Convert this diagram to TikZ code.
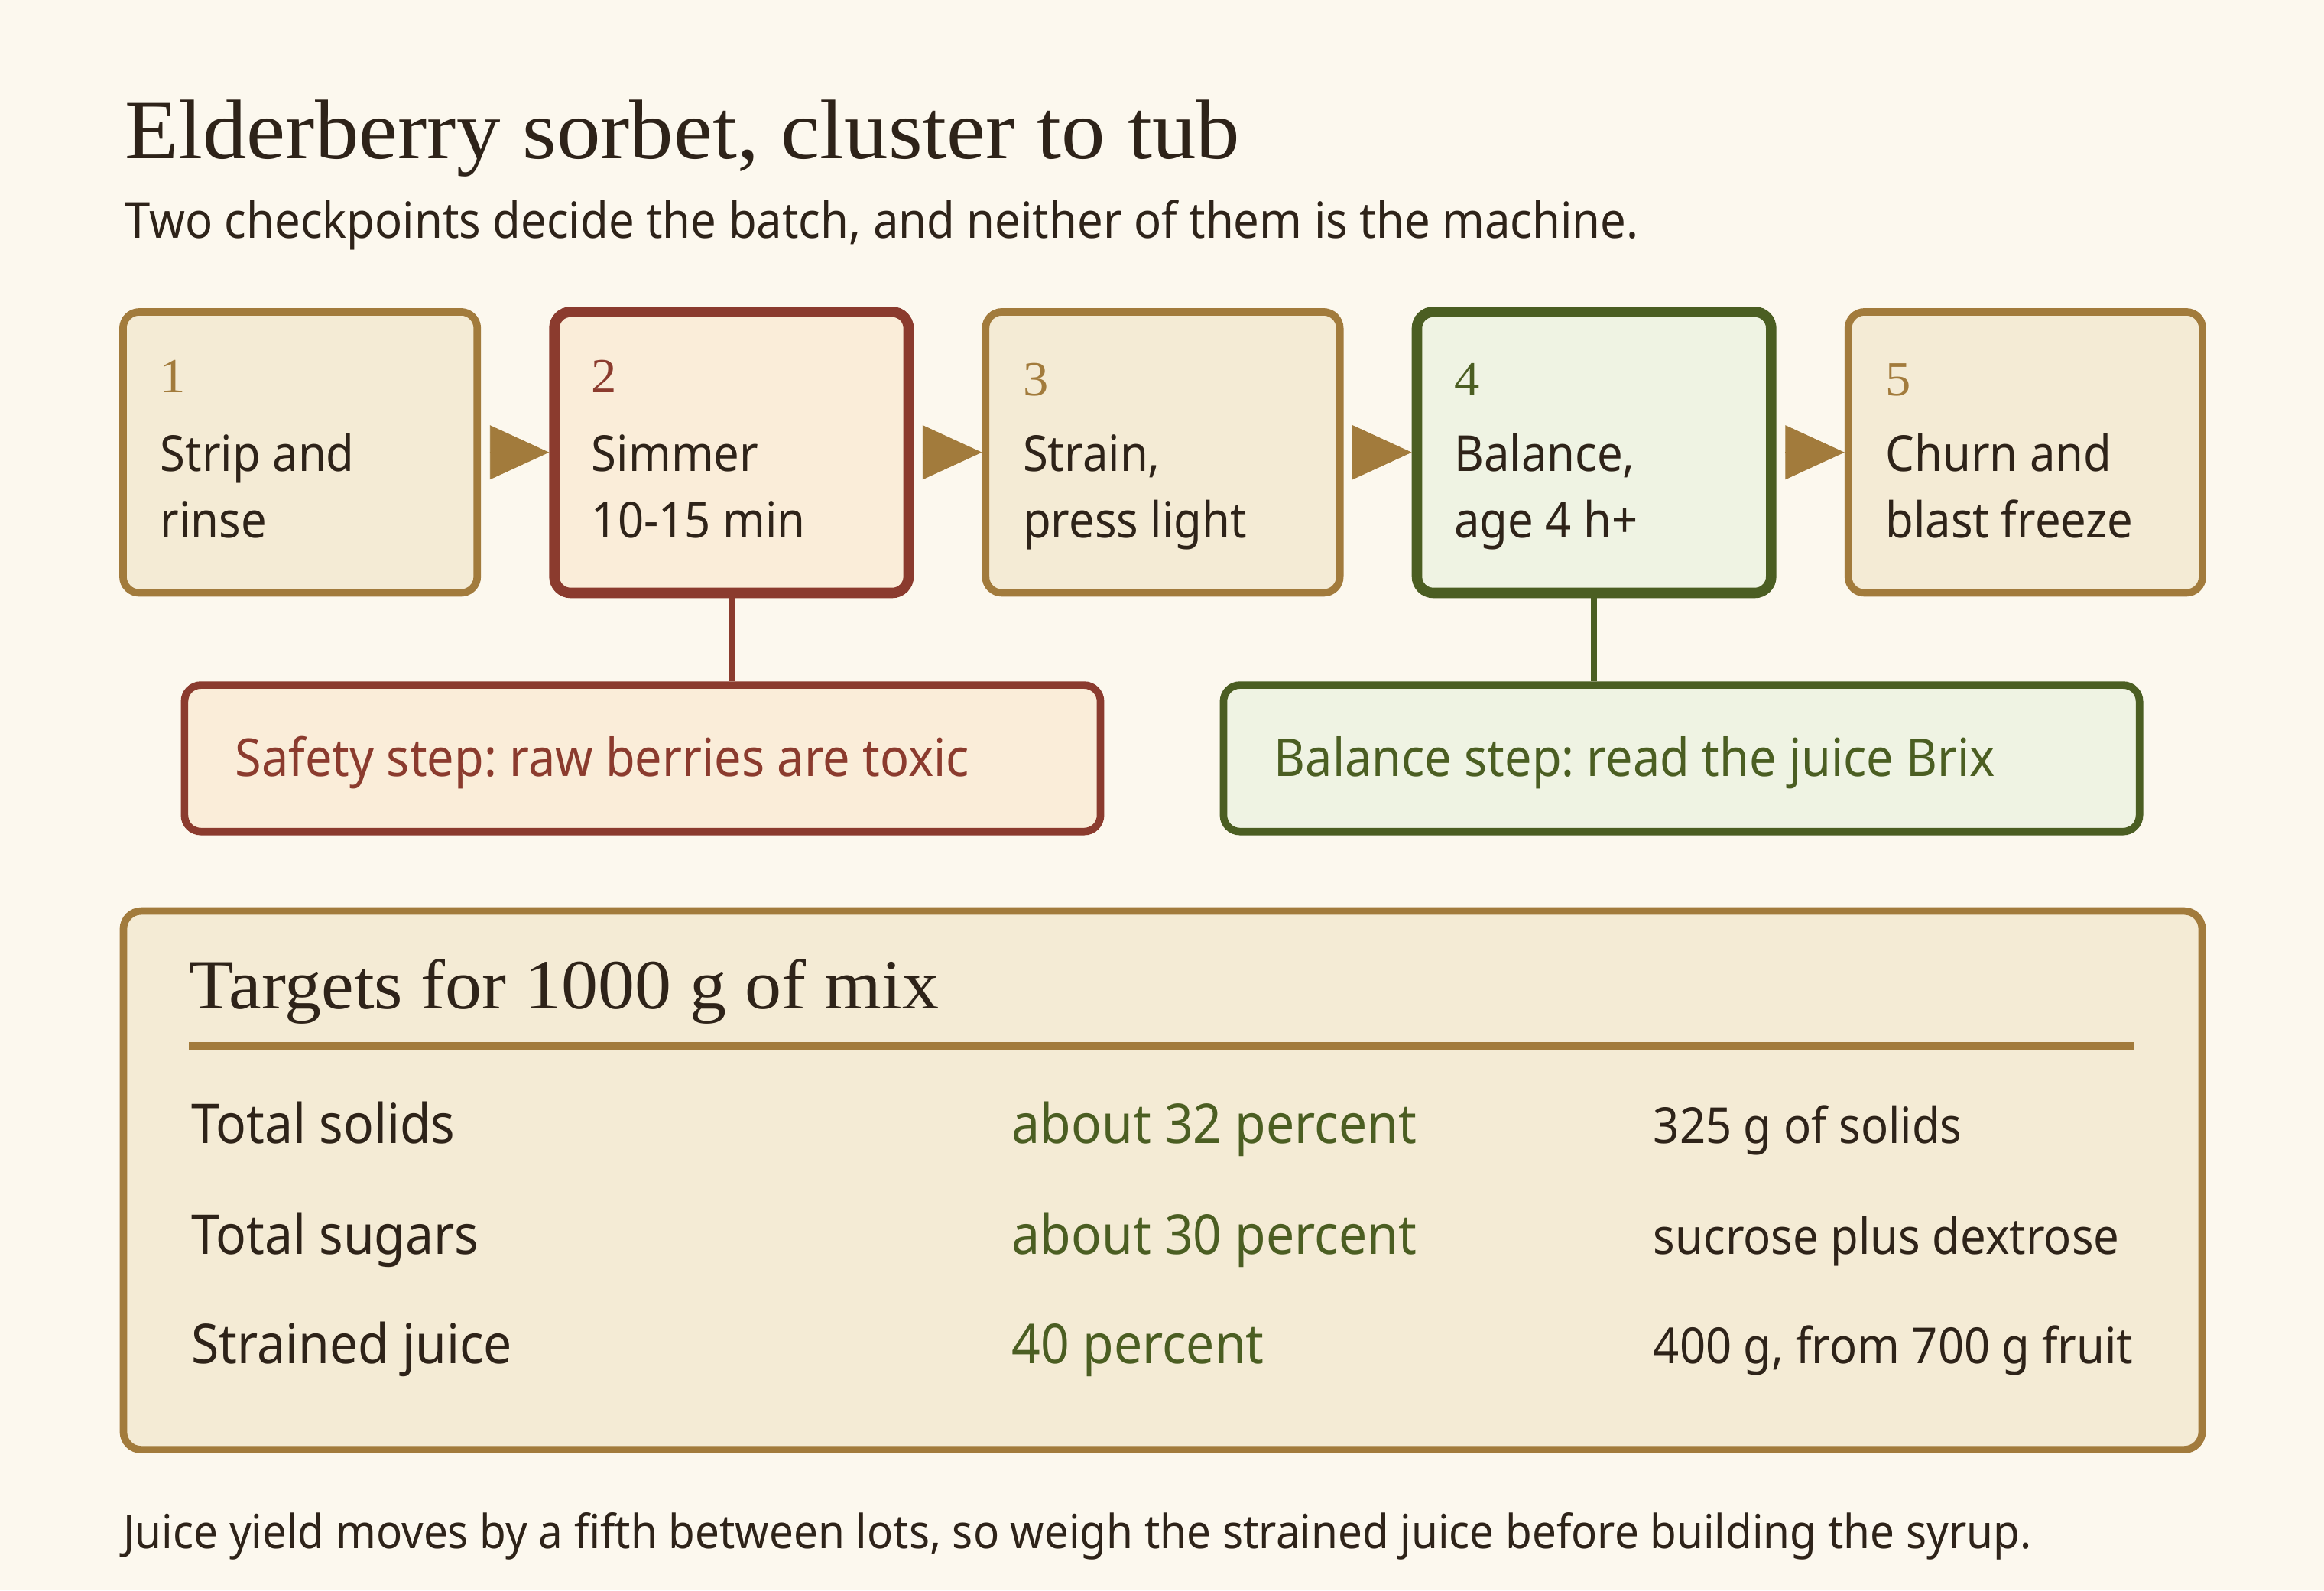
\documentclass[tikz,border=0pt]{standalone}
\usepackage{fontspec}
\setmainfont{Noto Sans}[FakeStretch=0.92]
\newfontfamily\serifx{Liberation Serif}[FakeStretch=1.04]
\usetikzlibrary{arrows.meta}
\definecolor{bgc}{HTML}{FCF8EE}
\definecolor{gold}{HTML}{A27B3C}
\definecolor{goldfill}{HTML}{F4EBD5}
\definecolor{redc}{HTML}{8B3B2E}
\definecolor{redfill}{HTML}{FAEDD9}
\definecolor{greenc}{HTML}{4B5E22}
\definecolor{greenfill}{HTML}{EFF3E3}
\definecolor{ink}{HTML}{2E2319}
\frenchspacing
\begin{document}
\begin{tikzpicture}[x=1pt,y=-1pt,
  stepbox/.style={draw=gold, fill=goldfill, line width=5pt, rounded corners=11pt,
    minimum width=239pt, minimum height=189.6pt, inner sep=0pt},
  redbox/.style={stepbox, draw=redc, fill=redfill, line width=7pt},
  greenbox/.style={stepbox, draw=greenc, fill=greenfill, line width=7pt},
  numtxt/.style={anchor=base west, inner sep=0pt, font=\serifx\fontsize{33}{33}\selectfont},
  steptxt/.style={anchor=base west, inner sep=0pt, text=ink, font=\fontsize{33.5}{40}\selectfont},
  flowarrow/.style={draw=gold, fill=gold, line width=0.5pt, shorten <=6pt,
    -{Triangle[length=40pt,width=36.6pt]}},
  callout/.style={line width=5pt, rounded corners=11pt, minimum width=618pt,
    minimum height=98.8pt, inner sep=0pt},
  callouttxt/.style={anchor=base west, inner sep=0pt, font=\fontsize{35.3}{40}\selectfont},
  rowtxt/.style={anchor=base west, inner sep=0pt, font=\fontsize{37}{40}\selectfont},
  notetxt/.style={anchor=base west, inner sep=0pt, text=ink, font=\fontsize{33.5}{40}\selectfont},
]
\useasboundingbox (0,0) rectangle (1568,1073);
\fill[bgc] (0,0) rectangle (1568,1073);

% title and subtitle
\node[anchor=base west, inner sep=0pt, text=ink, font=\serifx\fontsize{57}{60}\selectfont]
  (title) at (84,107) {Elderberry sorbet, cluster to tub};
\node[anchor=base west, inner sep=0pt, text=ink, font=\fontsize{33.5}{40}\selectfont]
  (subtitle) at (84,160.8) {Two checkpoints decide the batch, and neither of them is the machine.};

% step boxes
\node[stepbox]  (b1) at (202.5,305.2) {};
\node[redbox]   (b2) at (493.5,305.2) {};
\node[stepbox]  (b3) at (784.5,305.2) {};
\node[greenbox] (b4) at (1075.5,305.2) {};
\node[stepbox]  (b5) at (1366.5,305.2) {};

\node[numtxt, text=gold]   (n1) at (108,265) {1};
\node[numtxt, text=redc]   (n2) at (399,265) {2};
\node[numtxt, text=gold]   (n3) at (690,267) {3};
\node[numtxt, text=greenc] (n4) at (981,267) {4};
\node[numtxt, text=gold]   (n5) at (1272,267) {5};

\node[steptxt] (t1a) at (108,318) {Strip and};
\node[steptxt] (t1b) at (108,362.8) {rinse};
\node[steptxt] (t2a) at (399,318) {Simmer};
\node[steptxt] (t2b) at (399,362.8) {10-15 min};
\node[steptxt] (t3a) at (690,318) {Strain,};
\node[steptxt] (t3b) at (690,362.8) {press light};
\node[steptxt] (t4a) at (981,318) {Balance,};
\node[steptxt] (t4b) at (981,362.8) {age 4 h+};
\node[steptxt] (t5a) at (1272,318) {Churn and};
\node[steptxt] (t5b) at (1272,362.8) {blast freeze};

% flow arrows
\draw[flowarrow] (b1.east) -- (b2.west);
\draw[flowarrow] (b2.east) -- (b3.west);
\draw[flowarrow] (b3.east) -- (b4.west);
\draw[flowarrow] (b4.east) -- (b5.west);

% callouts
\node[callout, draw=redc, fill=redfill] (safety) at (433.5,511.6) {};
\node[callout, draw=greenc, fill=greenfill] (balance) at (1134.5,511.6) {};
\draw[redc, line width=4pt] (b2.south) -- (b2.south |- safety.north);
\draw[greenc, line width=4pt] (b4.south) -- (b4.south |- balance.north);
\node[callouttxt, text=redc] (safetytxt) at (158.5,523.9) {Safety step: raw berries are toxic};
\node[callouttxt, text=greenc] (balancetxt) at (859.5,523.9) {Balance step: read the juice Brix};

% targets panel
\node[draw=gold, fill=goldfill, line width=5pt, rounded corners=12pt,
  minimum width=1402.4pt, minimum height=363.4pt, inner sep=0pt] (panel) at (784.5,796.3) {};
\node[anchor=base west, inner sep=0pt, text=ink, font=\serifx\fontsize{47.6}{50}\selectfont]
  (ptitle) at (127.5,680.8) {Targets for 1000 g of mix};
\draw[gold, line width=5pt] (127.5,705.6) -- (1440,705.6);

\node[rowtxt, text=ink]    (r1a) at (129,771.6) {Total solids};
\node[rowtxt, text=greenc] (r1b) at (682.6,771.6) {about 32 percent};
\node[notetxt]             (r1c) at (1115.4,771.6) {325 g of solids};
\node[rowtxt, text=ink]    (r2a) at (129,845.9) {Total sugars};
\node[rowtxt, text=greenc] (r2b) at (682.6,845.9) {about 30 percent};
\node[notetxt]             (r2c) at (1115.4,845.9) {sucrose plus dextrose};
\node[rowtxt, text=ink]    (r3a) at (129,919.8) {Strained juice};
\node[rowtxt, text=greenc] (r3b) at (682.6,919.8) {40 percent};
\node[notetxt]             (r3c) at (1115.4,919.8) {400 g, from 700 g fruit};

% footer
\node[anchor=base west, inner sep=0pt, text=ink, font=\fontsize{31.7}{40}\selectfont]
  (footer) at (83,1044.5) {Juice yield moves by a fifth between lots, so weigh the strained juice before building the syrup.};
\end{tikzpicture}
\end{document}
